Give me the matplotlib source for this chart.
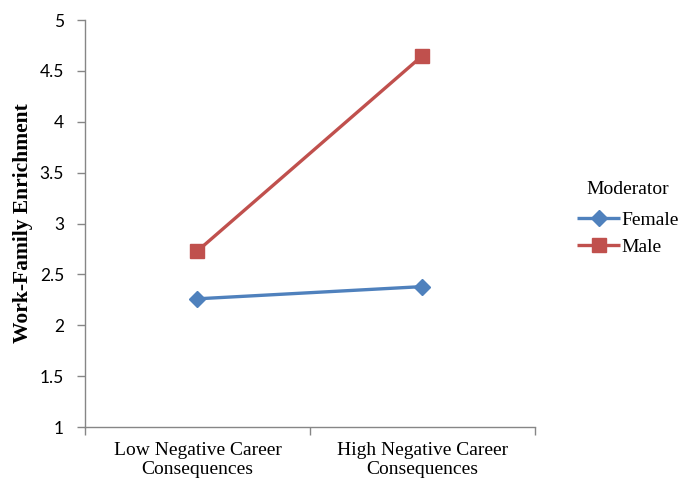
import numpy as np
import matplotlib.pyplot as plt

categories = ["Low Negative Career\nConsequences", "High Negative Career\nConsequences"]
female = [2.26, 2.38]
male = [2.73, 4.65]
y_ticks = [1, 1.5, 2, 2.5, 3, 3.5, 4, 4.5, 5]

fig = plt.figure(figsize=(6.85, 4.8), dpi=100)
ax = fig.add_axes([0.124, 0.1104, 0.657, 0.8479])

x = np.arange(len(categories))
ax.plot(x, female, color='#4F81BD', lw=2.4, marker='D', markersize=8,
        label='Female', solid_capstyle='butt')
ax.plot(x, male, color='#C0504D', lw=2.4, marker='s', markersize=9.5,
        label='Male', solid_capstyle='butt')

ax.set_xlim(-0.5, 1.5)
ax.set_ylim(1, 5)
ax.set_yticks(y_ticks)
ax.set_yticklabels([f"{v:g}" for v in y_ticks], fontfamily='Lato', fontsize=12.5)

# category labels without ticks, boundary tick marks as minor ticks
ax.set_xticks(x)
ax.set_xticklabels(categories, fontfamily='Liberation Serif', fontsize=14,
                   linespacing=1.15)
ax.tick_params(axis='x', which='major', length=0, pad=11)
ax.set_xticks([-0.5, 0.5, 1.5], minor=True)
ax.tick_params(axis='x', which='minor', length=6, color='#868686', width=1)
ax.tick_params(axis='y', length=6, color='#868686', width=1, pad=9)

for s in ['top', 'right']:
    ax.spines[s].set_visible(False)
for s in ['left', 'bottom']:
    ax.spines[s].set_color('#868686')
    ax.spines[s].set_linewidth(1)

ax.set_ylabel("Work-Family Enrichment", fontfamily='Liberation Serif',
              fontweight='bold', fontsize=15.5, labelpad=5)

leg = ax.legend(title='Moderator', loc='center left', bbox_to_anchor=(1.055, 0.512),
                frameon=False, prop={'family': 'Liberation Serif', 'size': 14},
                handlelength=2.2, handletextpad=0.05, labelspacing=0.5)
leg.get_title().set_fontfamily('Liberation Serif')
leg.get_title().set_fontsize(14)
leg._legend_box.sep = 9

fig.savefig("out.png", dpi=100)
